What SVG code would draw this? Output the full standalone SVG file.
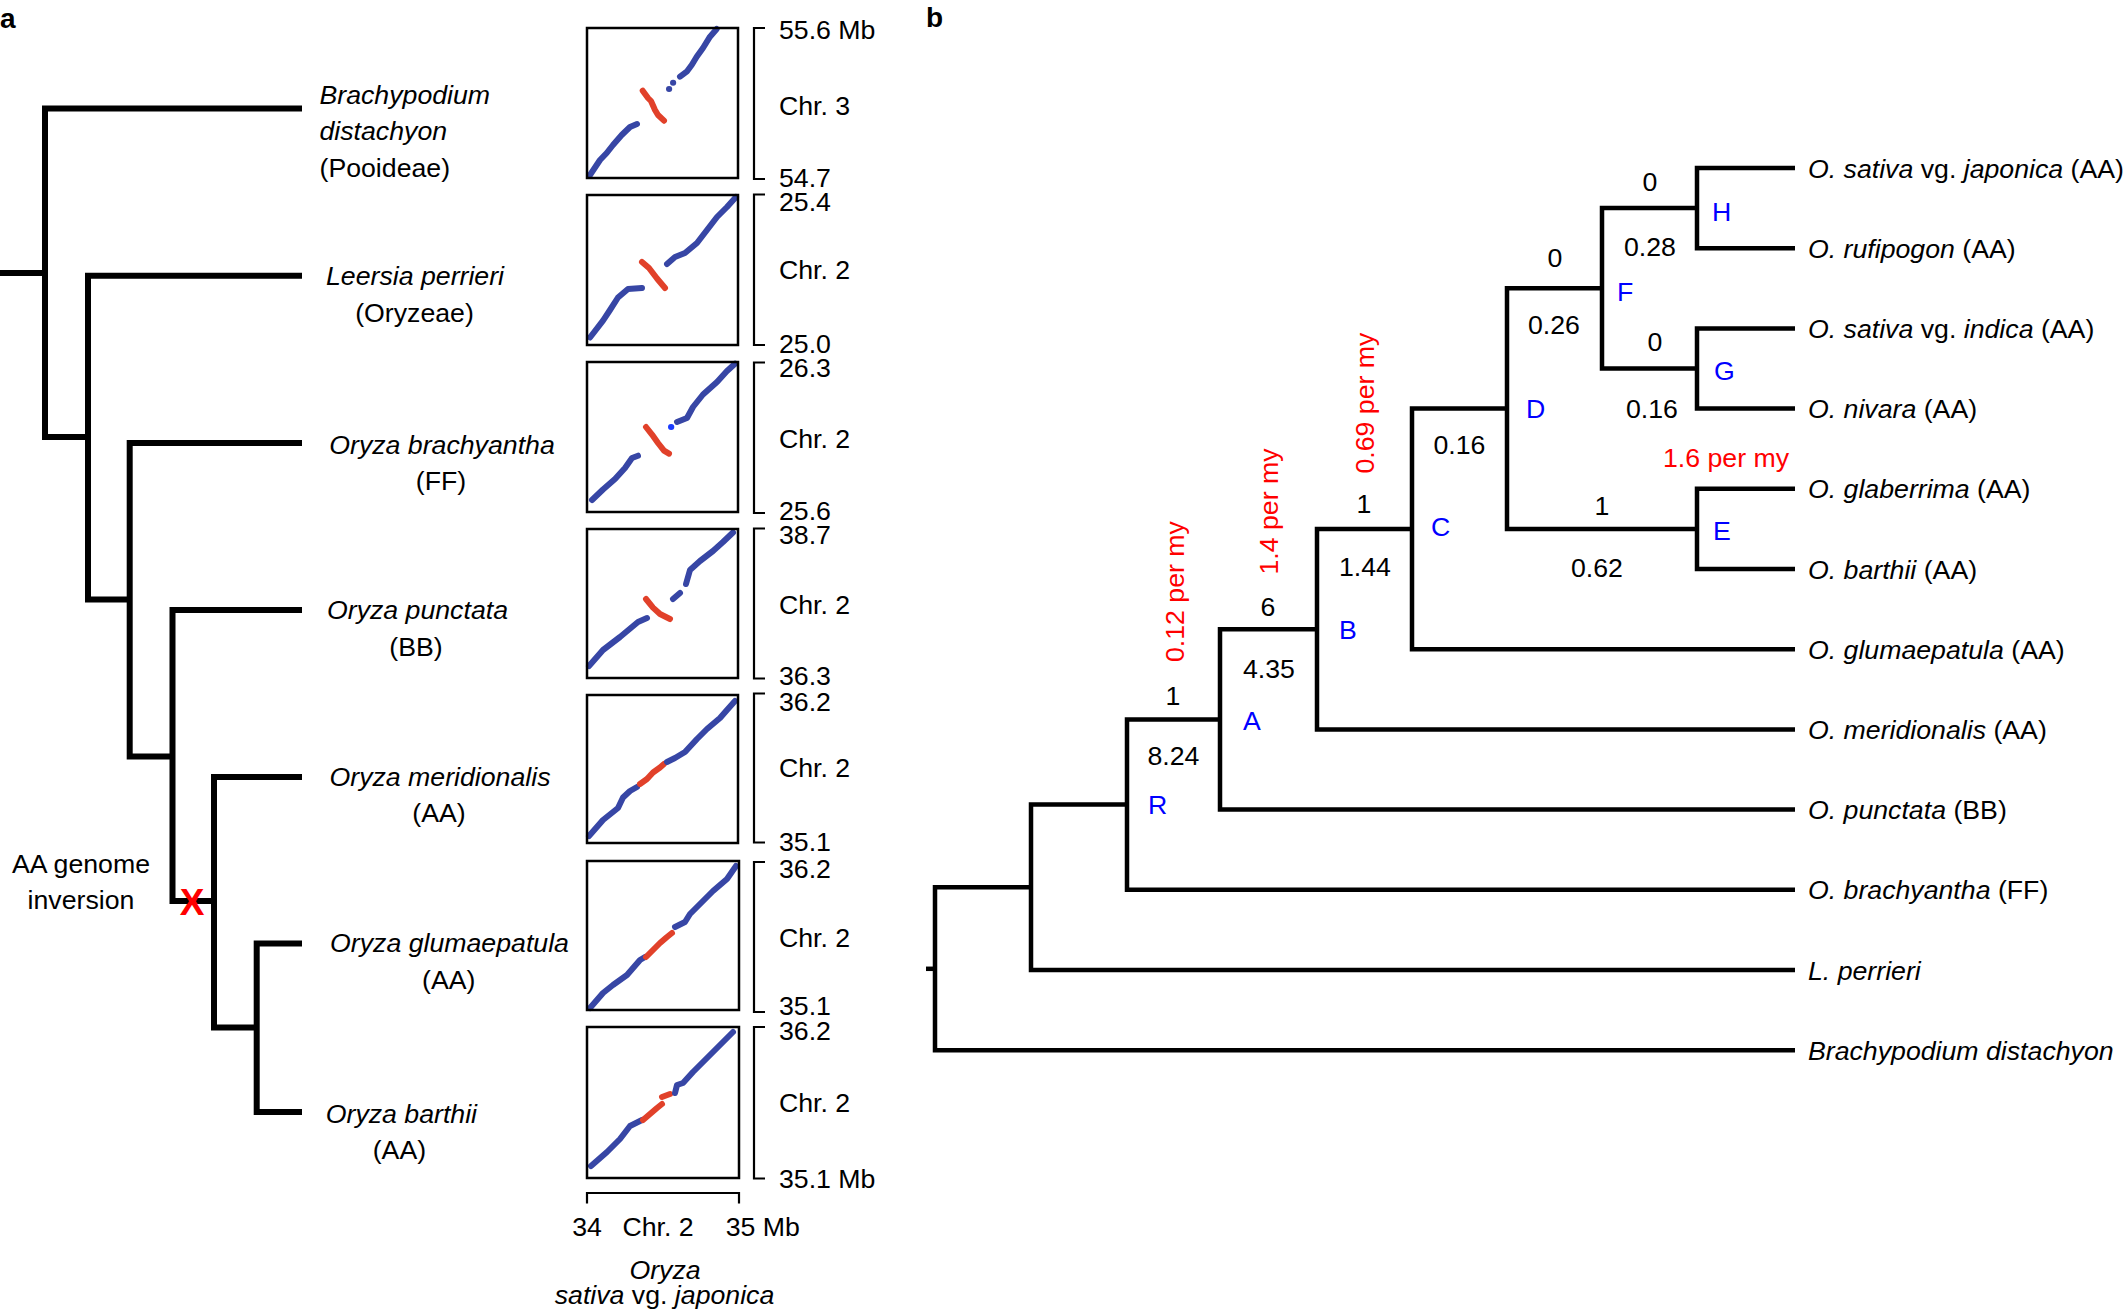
<svg xmlns="http://www.w3.org/2000/svg" width="2128" height="1313" viewBox="0 0 2128 1313">
<defs>
<style>
text{font-family:"Liberation Sans",Arial,Helvetica,sans-serif;font-size:26.7px;fill:#000}
.i{font-style:italic}
.m{text-anchor:middle}
.pl{font-weight:bold;font-size:28px}
.treeA{fill:none;stroke:#000;stroke-width:6;stroke-linejoin:miter}
.treeB{fill:none;stroke:#000;stroke-width:4.5;stroke-linejoin:miter}
.box{fill:none;stroke:#000;stroke-width:2.5}
.brk{fill:none;stroke:#000;stroke-width:2.2}
.db{fill:none;stroke:#3746a5;stroke-width:6;stroke-linecap:round;stroke-linejoin:round}
.dr{fill:none;stroke:#e1412a;stroke-width:6;stroke-linecap:round;stroke-linejoin:round}
.red{fill:#ff0000}
.blue{fill:#0000ff}
</style>
</defs>
<rect width="2128" height="1313" fill="#fff"/>

<!-- Panel a -->
<text class="pl" x="0" y="28">a</text>
<g id="treeA-connectors">
<path class="treeA" d="M0,273 H45"/>
<path class="treeA" d="M302,108.6 H45 V437 H88"/>
<path class="treeA" d="M302,275.7 H88 V599.6 H129.7"/>
<path class="treeA" d="M302,443 H129.7 V756.5 H172.5"/>
<path class="treeA" d="M302,610 H172.5 V901 H214"/>
<path class="treeA" d="M302,777 H214 V1027.5 H256.7"/>
<path class="treeA" d="M302,943.5 H256.7 V1112 H302"/>
</g>
<g id="inversion-mark">
<text x="192" y="914.5" class="m red" style="font-weight:bold;font-size:37px">X</text>
<text x="81" y="872.7" class="m">AA genome</text>
<text x="81" y="909" class="m">inversion</text>
</g>
<g id="taxon-brachypodium-a"><text x="319.5" y="104" class="i">Brachypodium</text><text x="319.5" y="140" class="i">distachyon</text><text x="319.5" y="176.5">(Pooideae)</text></g>
<g id="taxon-leersia-a"><text x="415" y="285" class="i m">Leersia perrieri</text><text x="414.5" y="321.5" class="m">(Oryzeae)</text></g>
<g id="taxon-brachyantha-a"><text x="442" y="453.5" class="i m">Oryza brachyantha</text><text x="441" y="490" class="m">(FF)</text></g>
<g id="taxon-punctata-a"><text x="417.5" y="619" class="i m">Oryza punctata</text><text x="416" y="655.7" class="m">(BB)</text></g>
<g id="taxon-meridionalis-a"><text x="440" y="785.5" class="i m">Oryza meridionalis</text><text x="439" y="822" class="m">(AA)</text></g>
<g id="taxon-glumaepatula-a"><text x="449.5" y="952.3" class="i m">Oryza glumaepatula</text><text x="448.8" y="989" class="m">(AA)</text></g>
<g id="taxon-barthii-a"><text x="401.4" y="1122.7" class="i m">Oryza barthii</text><text x="399.4" y="1159.3" class="m">(AA)</text></g>

<!-- Dot plots -->
<g id="dotplot-1">
<polyline class="db" points="590,175 600,160 606.7,153 613,145 621.7,135 630,127 637,124"/>
<polyline class="dr" points="642.7,90.7 648,98 651,101 655,110 658,115 664,120.7"/>
<polyline class="db" points="669,89 669.2,89"/><polyline class="db" points="673,82.7 673.2,82.7"/>
<polyline class="db" points="680,76.7 686.7,71.7 691.7,65 696.7,56.7 703,48 710,36.7 716.7,29"/>
<rect class="box" x="587" y="28" width="151" height="150"/>
<path class="brk" d="M765,28 H754 V179 H765"/>
<text x="779" y="38.5">55.6 Mb</text><text x="779" y="114.5">Chr. 3</text><text x="779" y="186.5">54.7</text>
</g>
<g id="dotplot-2">
<polyline class="db" points="590,337.5 603,320.7 610,310 618,297.5 628,289 642,288"/>
<polyline class="dr" points="642,262 649,268 657,278.5 665,288"/>
<polyline class="db" points="667,264 675,257 685,253 697,243 707,230 717,217 727,207 736,197"/>
<rect class="box" x="587" y="195" width="151" height="150"/>
<path class="brk" d="M765,194.5 H754 V345 H765"/>
<text x="779" y="210.6">25.4</text><text x="779" y="279">Chr. 2</text><text x="779" y="352.6">25.0</text>
</g>
<g id="dotplot-3">
<polyline class="db" points="592,500 603,489.5 615,479 625,468 632,458 638,455.7"/>
<polyline class="dr" points="646,427 652,434.6 658,443 664,450.6 669,453.6"/>
<polyline fill="none" stroke="#1a3cff" stroke-width="6" stroke-linecap="round" points="671,427 671.3,427"/>
<polyline class="db" points="677,422 687,418 693,407 703,394.5 717,382 727,371 735,363.7"/>
<rect class="box" x="587" y="362" width="151" height="150"/>
<path class="brk" d="M765,362.5 H754 V513 H765"/>
<text x="779" y="376.6">26.3</text><text x="779" y="448.2">Chr. 2</text><text x="779" y="520">25.6</text>
</g>
<g id="dotplot-4">
<polyline class="db" points="589,666 603,650 620,637 632,627 638,622 647,618"/>
<polyline class="dr" points="646,599 653,607.6 660,614 670,619"/>
<polyline class="db" points="673,599 680,593"/>
<polyline class="db" points="686,584 690,570 700,561 713,551 723,542 733,532.5"/>
<rect class="box" x="587" y="529" width="151" height="149"/>
<path class="brk" d="M765,528.5 H754 V678.5 H765"/>
<text x="779" y="544">38.7</text><text x="779" y="613.6">Chr. 2</text><text x="779" y="685.4">36.3</text>
</g>
<g id="dotplot-5">
<polyline class="db" points="589,836 603,820 618,808 623,797.5 630,791 637,787"/>
<polyline class="dr" points="640,784 647,779 653,772.5 660,767.5 664,764"/>
<polyline class="db" points="667,762 675,758 685,752 697,739 707,729 720,718 727,710 735,701"/>
<rect class="box" x="587" y="695" width="151" height="148"/>
<path class="brk" d="M765,693.5 H754 V842.5 H765"/>
<text x="779" y="711.3">36.2</text><text x="779" y="777">Chr. 2</text><text x="779" y="850.6">35.1</text>
</g>
<g id="dotplot-6">
<polyline class="db" points="590,1008 603,993 613,985 627,975 640,960 645,957"/>
<polyline class="dr" points="646,957 653,950 660,943 667,937 672,933"/>
<polyline class="db" points="675,927 685,922 690,914 700,904 713,891 727,879 736,866"/>
<rect class="box" x="587" y="861" width="152" height="149"/>
<path class="brk" d="M765,862 H754 V1012 H765"/>
<text x="779" y="877.6">36.2</text><text x="779" y="946.6">Chr. 2</text><text x="779" y="1014.5">35.1</text>
</g>
<g id="dotplot-7">
<polyline class="db" points="591,1166 607,1152 620,1139 630,1126 642,1120"/>
<polyline class="dr" points="643,1120 650,1114 657,1108 662,1104"/>
<polyline class="dr" points="662,1097 670,1094"/>
<polyline class="db" points="675,1093 677,1085 683,1083 693,1072 707,1058 720,1045 733,1032"/>
<rect class="box" x="587" y="1027" width="152" height="151"/>
<path class="brk" d="M765,1027 H754 V1178.5 H765"/>
<text x="779" y="1040.3">36.2</text><text x="779" y="1112">Chr. 2</text><text x="779" y="1188">35.1 Mb</text>
</g>
<g id="x-axis-a">
<path class="brk" d="M587,1203.5 V1193 H739 V1203.5"/>
<text x="587" y="1236" class="m">34</text>
<text x="658" y="1236" class="m">Chr. 2</text>
<text x="725.7" y="1236">35 Mb</text>
<text x="665" y="1278.5" class="m i">Oryza</text>
<text x="664.5" y="1304" class="m"><tspan class="i">sativa</tspan> vg. <tspan class="i">japonica</tspan></text>
</g>

<!-- Panel b -->
<text class="pl" x="926" y="27">b</text>
<g id="treeB-connectors">
<path class="treeB" d="M926,968.8 H935"/>
<path class="treeB" d="M1031,887.3 H935 V1050.2 H1795"/>
<path class="treeB" d="M1127,804.6 H1031 V970 H1795"/>
<path class="treeB" d="M1220,719.4 H1127 V889.8 H1795"/>
<path class="treeB" d="M1317,629.2 H1220 V809.6 H1795"/>
<path class="treeB" d="M1412,528.9 H1317 V729.4 H1795"/>
<path class="treeB" d="M1507,408.6 H1412 V649.2 H1795"/>
<path class="treeB" d="M1602,288.3 H1507 V528.9 H1697"/>
<path class="treeB" d="M1697,208.1 H1602 V368.5 H1697"/>
<path class="treeB" d="M1795,168 H1697 V248.2 H1795"/>
<path class="treeB" d="M1795,328.4 H1697 V408.6 H1795"/>
<path class="treeB" d="M1795,488.8 H1697 V569 H1795"/>
</g>
<g id="node-R"><text x="1148" y="813.6" class="blue">R</text><text x="1173" y="704.6" class="m">1</text><text x="1173.5" y="764.6" class="m">8.24</text>
<text transform="translate(1183.5,662) rotate(-90)" class="red">0.12 per my</text></g>
<g id="node-A"><text x="1243" y="729.6" class="blue">A</text><text x="1268" y="615.6" class="m">6</text><text x="1269" y="677.6" class="m">4.35</text>
<text transform="translate(1278,574.5) rotate(-90)" class="red">1.4 per my</text></g>
<g id="node-B"><text x="1339" y="638.6" class="blue">B</text><text x="1364" y="512.6" class="m">1</text><text x="1365" y="575.6" class="m">1.44</text>
<text transform="translate(1373.5,473.5) rotate(-90)" class="red">0.69 per my</text></g>
<g id="node-C"><text x="1431" y="535.6" class="blue">C</text><text x="1459.5" y="453.6" class="m">0.16</text></g>
<g id="node-D"><text x="1526" y="417.6" class="blue">D</text><text x="1555" y="266.6" class="m">0</text><text x="1554" y="333.6" class="m">0.26</text>
<text x="1602" y="514.6" class="m">1</text><text x="1597" y="576.6" class="m">0.62</text></g>
<g id="node-F"><text x="1617" y="300.6" class="blue">F</text><text x="1650" y="190.6" class="m">0</text><text x="1650" y="255.6" class="m">0.28</text>
<text x="1655" y="350.6" class="m">0</text><text x="1652" y="417.6" class="m">0.16</text></g>
<g id="node-H"><text x="1712" y="220.6" class="blue">H</text></g>
<g id="node-G"><text x="1714" y="379.6" class="blue">G</text></g>
<g id="node-E"><text x="1713" y="539.6" class="blue">E</text><text x="1726" y="466.6" class="m red">1.6 per my</text></g>
<g id="leaves-b">
<text x="1808" y="177.6"><tspan class="i">O. sativa</tspan> vg. <tspan class="i">japonica</tspan> (AA)</text>
<text x="1808" y="257.8"><tspan class="i">O. rufipogon</tspan> (AA)</text>
<text x="1808" y="338"><tspan class="i">O. sativa</tspan> vg. <tspan class="i">indica</tspan> (AA)</text>
<text x="1808" y="418.2"><tspan class="i">O. nivara</tspan> (AA)</text>
<text x="1808" y="498.4"><tspan class="i">O. glaberrima</tspan> (AA)</text>
<text x="1808" y="578.6"><tspan class="i">O. barthii</tspan> (AA)</text>
<text x="1808" y="658.8"><tspan class="i">O. glumaepatula</tspan> (AA)</text>
<text x="1808" y="739"><tspan class="i">O. meridionalis</tspan> (AA)</text>
<text x="1808" y="819.2"><tspan class="i">O. punctata</tspan> (BB)</text>
<text x="1808" y="899.4"><tspan class="i">O. brachyantha</tspan> (FF)</text>
<text x="1808" y="979.6" class="i">L. perrieri</text>
<text x="1808" y="1059.8" class="i">Brachypodium distachyon</text>
</g>
</svg>
